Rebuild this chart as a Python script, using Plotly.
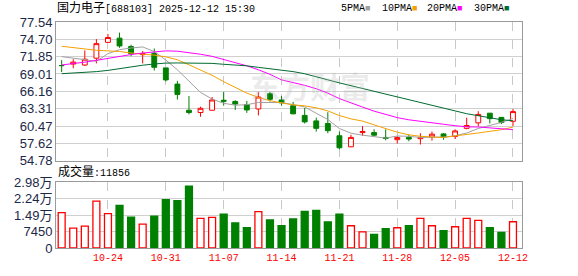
import plotly.graph_objects as go

dates = ["2025-10-20", "2025-10-21", "2025-10-22", "2025-10-23", "2025-10-24",
         "2025-10-27", "2025-10-28", "2025-10-29", "2025-10-30", "2025-10-31",
         "2025-11-03", "2025-11-04", "2025-11-05", "2025-11-06", "2025-11-07",
         "2025-11-10", "2025-11-11", "2025-11-12", "2025-11-13", "2025-11-14",
         "2025-11-17", "2025-11-18", "2025-11-19", "2025-11-20", "2025-11-21",
         "2025-11-24", "2025-11-25", "2025-11-26", "2025-11-27", "2025-11-28",
         "2025-12-01", "2025-12-02", "2025-12-03", "2025-12-04", "2025-12-05",
         "2025-12-08", "2025-12-09", "2025-12-10", "2025-12-11", "2025-12-12"]

opens = [70.40, 70.64, 70.48, 71.60, 74.20, 74.89, 73.51, 72.18, 72.40, 70.01,
         67.35, 63.06, 62.69, 63.06, 64.70, 64.49, 64.00, 63.27, 65.76, 64.75,
         63.80, 62.21, 61.31, 60.88, 58.87, 57.06, 59.39, 59.39, 58.60, 58.23,
         58.60, 58.39, 58.65, 59.18, 58.76, 60.09, 60.99, 62.58, 61.89, 61.25]
highs = [71.28, 71.44, 72.87, 74.73, 75.58, 75.79, 73.83, 72.77, 73.19, 70.05,
         67.88, 65.39, 63.64, 65.23, 66.08, 64.70, 64.59, 66.03, 66.08, 65.39,
         64.44, 63.43, 61.84, 62.74, 59.56, 59.03, 60.46, 59.93, 59.93, 58.76,
         59.03, 59.29, 59.56, 59.29, 59.93, 61.84, 62.90, 62.60, 61.90, 63.27]
lows = [69.32, 69.95, 70.33, 70.75, 74.10, 73.30, 71.92, 70.75, 69.58, 67.78,
        64.81, 62.37, 61.99, 63.00, 63.80, 63.11, 62.63, 62.21, 64.49, 63.80,
        62.40, 60.88, 59.55, 59.29, 56.64, 57.00, 58.87, 58.76, 58.12, 57.59,
        57.96, 57.43, 58.07, 58.23, 58.34, 59.93, 60.46, 60.88, 60.78, 60.46]
closes = [70.38, 70.96, 71.44, 73.99, 74.99, 73.61, 72.34, 72.34, 70.11, 68.04,
          65.66, 62.69, 63.38, 64.75, 64.54, 64.07, 63.11, 65.23, 64.86, 64.28,
          62.47, 61.15, 60.09, 59.71, 56.90, 58.60, 59.55, 58.97, 58.44, 58.60,
          58.33, 58.60, 59.13, 58.65, 59.66, 60.56, 62.37, 61.68, 61.04, 62.84]

ma5 = [71.86, 71.60, 71.30, 71.10, 72.35, 73.00, 73.27, 73.45, 72.68, 71.29,
       69.70, 67.77, 65.98, 64.90, 64.20, 63.89, 63.97, 64.34, 64.36, 64.31,
       63.99, 63.60, 62.57, 61.54, 60.06, 59.29, 58.97, 58.75, 58.49, 58.83,
       58.78, 58.59, 58.62, 58.66, 58.87, 59.32, 60.07, 60.58, 61.06, 61.70]
ma10 = [73.56, 73.30, 73.10, 72.90, 72.80, 72.70, 72.45, 72.30, 72.10, 71.82,
        71.35, 70.52, 69.72, 68.79, 67.75, 66.79, 65.87, 65.16, 64.63, 64.26,
        63.94, 63.78, 63.46, 62.95, 62.19, 61.64, 61.28, 60.66, 60.02, 59.45,
        59.03, 58.78, 58.68, 58.58, 58.85, 59.05, 59.33, 59.60, 59.86, 60.29]
ma20 = [70.49, 70.70, 70.95, 71.25, 71.60, 71.95, 72.20, 72.45, 72.65, 72.80,
        72.75, 72.55, 72.25, 71.90, 71.40, 70.90, 70.35, 69.70, 68.95, 68.04,
        67.64, 67.15, 66.59, 65.87, 64.97, 64.22, 63.58, 62.91, 62.32, 61.85,
        61.49, 61.28, 61.07, 60.76, 60.52, 60.34, 60.31, 60.13, 59.94, 59.87]
ma30 = [69.06, 69.15, 69.30, 69.40, 69.60, 69.90, 70.20, 70.45, 70.65, 70.80,
        70.82, 70.82, 70.81, 70.75, 70.60, 70.50, 70.35, 70.10, 69.90, 69.65,
        69.40, 69.05, 68.60, 68.05, 67.55, 67.10, 66.60, 66.10, 65.65, 65.18,
        64.77, 64.36, 63.95, 63.44, 62.93, 62.49, 62.16, 61.81, 61.50, 61.33]

volumes = [16000, 9000, 9900, 21200, 15550, 19200, 13950, 10750, 14400, 21800,
           21350, 27900, 13350, 13800, 15250, 11350, 9150, 16450, 12650, 10050,
           13100, 16550, 17000, 11800, 15250, 10050, 7250, 6100, 8700, 9150,
           10050, 13350, 10050, 7850, 9600, 13350, 12500, 9150, 7000, 11856]
vol_up = [1, 1, 1, 1, 1, 0, 0, 1, 0, 0,
          0, 0, 1, 1, 0, 0, 0, 1, 0, 0,
          0, 0, 0, 0, 0, 1, 1, 0, 0, 1,
          0, 1, 1, 0, 1, 1, 1, 0, 0, 1]

tick_dates = ["2025-10-24", "2025-10-31", "2025-11-07", "2025-11-14",
              "2025-11-21", "2025-11-28", "2025-12-05", "2025-12-12"]
tick_labels = ["10-24", "10-31", "11-07", "11-14", "11-21", "11-28", "12-05", "12-12"]
price_ticks = [54.78, 57.62, 60.47, 63.31, 66.16, 69.01, 71.85, 74.70, 77.54]
price_labels = ["54.78", "57.62", "60.47", "63.31", "66.16", "69.01", "71.85", "74.70", "77.54"]
vol_ticks = [0, 7450, 14900, 22350, 29800]
vol_labels = ["0", "7450", "1.49万", "2.24万", "2.98万"]

RED = "#ff0000"
GREEN = "#008000"
LABEL = "#1c2847"
GRID = "#d0d0d0"
BORDER = "#9a9a9a"

fig = go.Figure()

fig.add_trace(go.Candlestick(
    x=dates, open=opens, high=highs, low=lows, close=closes,
    increasing=dict(line=dict(color=RED, width=1), fillcolor="#ffffff"),
    decreasing=dict(line=dict(color=GREEN, width=1), fillcolor=GREEN),
    whiskerwidth=0, xaxis="x", yaxis="y", showlegend=False, hoverinfo="skip"))

for vals, col in [(ma5, "#a0a0a0"), (ma10, "#f5a000"), (ma20, "#ff00ff"), (ma30, "#006b30")]:
    fig.add_trace(go.Scatter(x=dates, y=vals, mode="lines",
                             line=dict(color=col, width=1, shape="hv" if False else "linear"),
                             xaxis="x", yaxis="y", showlegend=False, hoverinfo="skip"))

fig.add_trace(go.Bar(
    x=dates, y=volumes, width=0.6,
    marker=dict(color=["#ffffff" if u else GREEN for u in vol_up],
                line=dict(color=[RED if u else GREEN for u in vol_up], width=1.3)),
    xaxis="x2", yaxis="y2", showlegend=False, hoverinfo="skip"))

xcommon = dict(type="category", range=[-0.49, 39.78], tickvals=tick_dates,
               showgrid=True, gridcolor="#c8c8c8", griddash="dash", gridwidth=1,
               showline=True, mirror=True, linecolor=BORDER, linewidth=1,
               ticks="", zeroline=False, fixedrange=True)

fig.update_layout(
    width=578, height=276,
    margin=dict(l=56, r=56, t=22, b=21),
    paper_bgcolor="#ffffff", plot_bgcolor="#ffffff",
    boxgap=0.4,
    xaxis=dict(**xcommon, anchor="y", showticklabels=False, rangeslider=dict(visible=False)),
    xaxis2=dict(**xcommon, anchor="y2", ticktext=tick_labels, showticklabels=True,
                tickfont=dict(family="Liberation Mono, DejaVu Sans Mono, monospace", size=10, color=RED)),
    yaxis=dict(domain=[0.3863, 1.0], range=[54.779, 77.541], tickvals=price_ticks,
               ticktext=price_labels, showgrid=True, gridcolor=GRID, gridwidth=1,
               showline=True, mirror=True, linecolor=BORDER, ticks="", zeroline=False,
               tickfont=dict(family="Liberation Sans, Arial, sans-serif", size=13, color=LABEL)),
    yaxis2=dict(domain=[0.0, 0.2918], range=[0, 29800], tickvals=vol_ticks,
                ticktext=vol_labels, showgrid=True, gridcolor=GRID, gridwidth=1,
                showline=True, mirror=True, linecolor=BORDER, ticks="", zeroline=False,
                tickfont=dict(family="Liberation Sans, Arial, Noto Sans CJK SC, sans-serif", size=13, color=LABEL)),
)

mono = "Liberation Mono, Noto Sans CJK SC, monospace"

fig.add_annotation(xref="paper", yref="paper", x=0.545, y=0.72, xanchor="center", yanchor="middle",
                   text="<b>东方财富</b>", showarrow=False,
                   font=dict(family="Noto Sans CJK SC", size=30, color="rgba(185,185,185,0.28)"))

fig.add_annotation(xref="paper", yref="paper", x=-0.002, y=1.058, xanchor="left", yanchor="middle",
                   text="<span style='font-size:12px'>国力电子</span>[688103] 2025-12-12 15:30",
                   showarrow=False, font=dict(family=mono, size=10, color="#000000"))

fig.add_annotation(xref="paper", yref="paper", x=0.0, y=0.335, xanchor="left", yanchor="middle",
                   text="<span style='font-size:12px'>成交量</span>:11856",
                   showarrow=False, font=dict(family=mono, size=10, color="#000000"))

legend_items = [("5PMA", "#a0a0a0", 339), ("10PMA", "#f5a000", 380),
                ("20PMA", "#ff00ff", 425), ("30PMA", "#006b30", 472)]
for name, col, px in legend_items:
    fig.add_annotation(xref="paper", yref="paper", x=(px - 56) / 466, y=1.058,
                       xanchor="left", yanchor="middle", showarrow=False,
                       text=f"{name}<span style='color:{col};font-size:9px'>■</span>",
                       font=dict(family=mono, size=10, color="#000000"))

fig.write_html("out.html")
